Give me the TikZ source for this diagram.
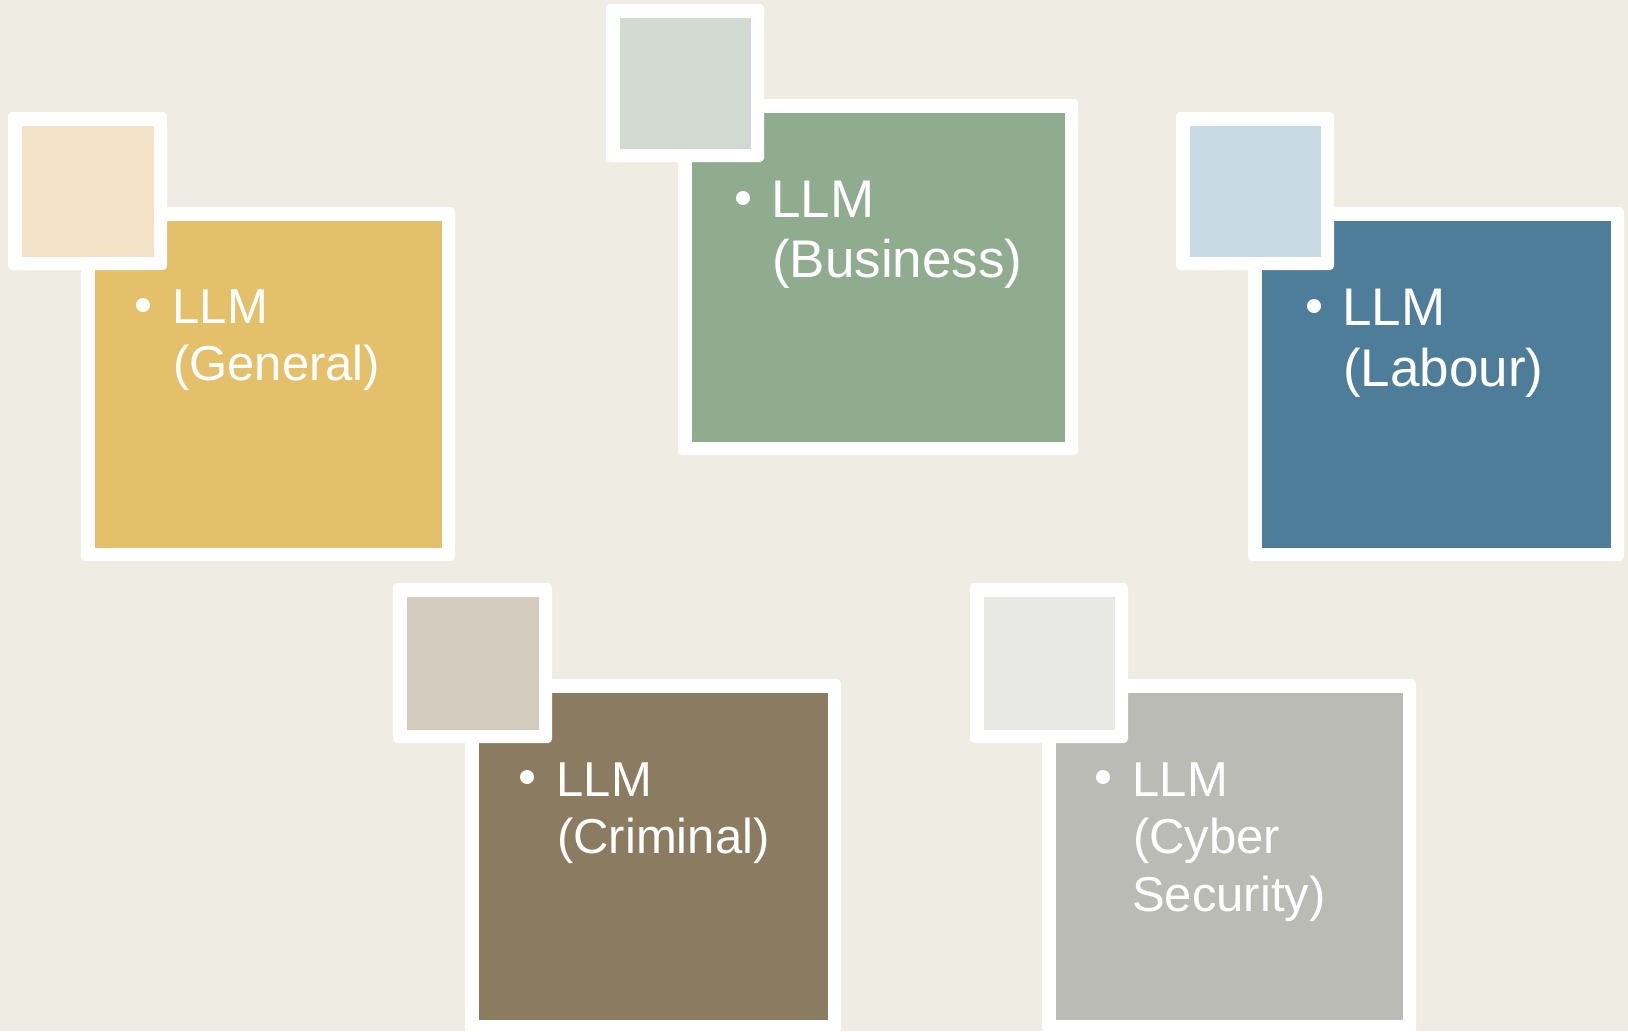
\documentclass[tikz,border=0pt]{standalone}
\usepackage{fontspec}
\setmainfont{Liberation Sans}
\definecolor{bgc}{RGB}{239,236,228}
\definecolor{genB}{RGB}{228,192,107}
\definecolor{genS}{RGB}{243,226,199}
\definecolor{busB}{RGB}{143,172,143}
\definecolor{busS}{RGB}{209,219,210}
\definecolor{labB}{RGB}{78,125,154}
\definecolor{labS}{RGB}{200,218,228}
\definecolor{criB}{RGB}{138,123,97}
\definecolor{criS}{RGB}{210,203,190}
\definecolor{cybB}{RGB}{186,187,181}
\definecolor{cybS}{RGB}{231,231,228}
\newcommand{\panelbox}[6]{%
  \node[shell, minimum width=#4pt, minimum height=#5pt] (#1) at (#2,#3) {};
  \fill[#6] ([shift={(13.5,13.5)}]#1.north west) rectangle ([shift={(-13.5,-13.5)}]#1.south east);}
\begin{document}
\begin{tikzpicture}[x=1pt,y=-1pt,
  shell/.style={fill=white, rounded corners=4pt, inner sep=0pt, outer sep=0pt, draw=none},
  dot/.style={circle, fill=white, inner sep=0pt, minimum size=14pt},
  lblA/.style={text=white, inner sep=0pt, anchor=base west, font=\fontsize{49}{57}\selectfont},
  lblB/.style={text=white, inner sep=0pt, anchor=base west, font=\fontsize{53}{61}\selectfont}]
\useasboundingbox (0,0) rectangle (1628,1031);
\fill[bgc] (0,0) rectangle (1628,1031);

% General
\panelbox{genbig}{268}{384}{374}{354}{genB}
\panelbox{gensmall}{87.5}{191}{159}{158}{genS}
\node[dot] (gendot) at (143,305) {};
\node[lblA] (gen1) at (172.5,323) {LLM};
\node[lblA] (gen2) at (173,380) {(General)};

% Business
\panelbox{busbig}{878}{277}{400}{356}{busB}
\panelbox{bussmall}{685}{83}{158}{158}{busS}
\node[dot] (busdot) at (743,198) {};
\node[lblB] (bus1) at (771,217) {LLM};
\node[lblB] (bus2) at (772,277) {(Business)};

% Labour
\panelbox{labbig}{1436}{384}{376}{354}{labB}
\panelbox{labsmall}{1255}{191}{158}{158}{labS}
\node[dot] (labdot) at (1314,306) {};
\node[lblB] (lab1) at (1342,325) {LLM};
\node[lblB] (lab2) at (1343,386) {(Labour)};

% Criminal
\panelbox{cribig}{653}{856}{376}{354}{criB}
\panelbox{crismall}{472.5}{663}{159}{160}{criS}
\node[dot] (cridot) at (527,777) {};
\node[lblA] (cri1) at (556.5,796) {LLM};
\node[lblA] (cri2) at (557,853) {(Criminal)};

% Cyber Security
\panelbox{cybbig}{1229}{856}{374}{354}{cybB}
\panelbox{cybsmall}{1049}{663}{158}{160}{cybS}
\node[dot] (cybdot) at (1103,777) {};
\node[lblA] (cyb1) at (1132.5,796) {LLM};
\node[lblA] (cyb2) at (1133,853) {(Cyber};
\node[lblA] (cyb3) at (1132,911) {Security)};
\end{tikzpicture}
\end{document}
